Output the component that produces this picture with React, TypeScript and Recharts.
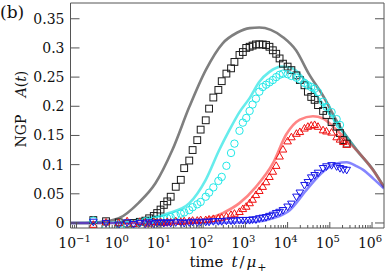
import React from "react";
import {
  ComposedChart,
  Line,
  Scatter,
  XAxis,
  YAxis,
} from "recharts";

// time grid shared by the simulation markers
const MARK_T = [
  0.25, 0.5, 1, 1.58, 2.24, 3.16, 4.27, 5.25, 6.76, 8.13, 9.77, 11.7, 14.1, 17.0,
  22.4, 29.5, 35.5, 46.8, 56.2, 72.4, 87.1, 115, 138, 174, 229, 275, 355, 457, 550,
  724, 871, 1047, 1259, 1479, 1778, 2138, 2570, 3090, 3715, 4467, 5370, 6457, 7762,
  10000, 12300, 16200, 19500, 25100, 30200, 36300, 43700, 52500, 69200, 83200,
  110000, 145000, 174000, 209000, 251000,
];

const SQUARES = [
  0.005, 0.003, 0.001, -0.001, 0.0, 0.002, 0.004, 0.008, 0.012, 0.017,
  0.023, 0.031, 0.037, 0.045, 0.062, 0.074, 0.094, 0.107, 0.125, 0.142,
  0.16, 0.176, 0.196, 0.215, 0.228, 0.243, 0.256, 0.265, 0.276, 0.288,
  0.293, 0.3, 0.302, 0.304, 0.306, 0.306, 0.306, 0.305, 0.302, 0.296,
  0.29, 0.282, 0.273, 0.268, 0.262, 0.253, 0.245, 0.236, 0.225, 0.216,
  0.211, 0.202, 0.192, 0.185, 0.173, 0.165, 0.154, 0.142, 0.136,
];

const CIRCLES = [
  0.004, -0.008, -0.002, -0.004, -0.003, 0.001, 0.003, 0.002, 0.004, 0.005,
  0.006, 0.007, 0.008, 0.01, 0.013, 0.016, 0.018, 0.022, 0.027, 0.032,
  0.036, 0.045, 0.052, 0.061, 0.072, 0.079, 0.098, 0.12, 0.136, 0.158,
  0.172, 0.18, 0.192, 0.203, 0.213, 0.225, 0.233, 0.237, 0.241, 0.245,
  0.25, 0.254, 0.256, 0.255, 0.252, 0.249, 0.246, 0.24, 0.236, 0.233,
  0.23, 0.224, 0.208, 0.199, 0.19, 0.178, 0.168, null, null,
];

const TRI_UP = [
  -0.003, 0.001, 0.0, 0.003, -0.002, 0.002, 0.001, -0.001, 0.002, 0.001,
  0.002, 0.0, 0.002, 0.001, 0.003, 0.002, 0.003, 0.003, 0.004, 0.004,
  0.005, 0.005, 0.006, 0.007, 0.008, 0.009, 0.011, 0.014, 0.016, 0.019,
  0.024, 0.028, 0.034, 0.04, 0.048, 0.055, 0.062, 0.07, 0.079, 0.088,
  0.098, 0.114, 0.126, 0.14, 0.147, 0.153, 0.156, 0.162, 0.165, 0.167,
  0.168, 0.165, 0.159, 0.157, 0.155, 0.147, 0.143, 0.139, 0.134,
];

const TRI_DOWN = [
  0.002, 0.0, -0.003, 0.001, -0.002, 0.0, -0.001, 0.001, -0.001, 0.0,
  0.001, 0.0, 0.001, 0.0, 0.001, 0.001, 0.0, 0.001, 0.002, 0.001,
  0.002, 0.002, 0.002, 0.003, 0.003, 0.003, 0.004, 0.004, 0.004, 0.005,
  0.005, 0.005, 0.005, 0.006, 0.006, 0.008, 0.009, 0.01, 0.012, 0.014,
  0.017, 0.019, 0.022, 0.028, 0.033, 0.045, 0.052, 0.065, 0.07, 0.078,
  0.082, 0.086, 0.094, 0.097, 0.099, 0.097, 0.094, 0.092, 0.091,
];

// theory curves
const GRAY_T = [0.072, 0.16, 0.32, 1, 3, 7.4, 18.6, 47, 115, 290, 630, 1260, 2140, 4000, 7900, 15800, 31600, 69000, 174000, 437000, 1070000, 1920000];
const GRAY_V = [0, 0, 0.001, 0.008, 0.035, 0.068, 0.125, 0.199, 0.262, 0.308, 0.326, 0.334, 0.335, 0.331, 0.318, 0.296, 0.256, 0.218, 0.165, 0.125, 0.091, 0.062];

const CYAN_T = [0.072, 1, 3, 15.5, 47, 115, 240, 417, 724, 1260, 2140, 3720, 7080, 11200, 17800, 27500, 47900, 83200, 174000, 437000, 1070000, 1920000];
const CYAN_V = [0, 0.001, 0.006, 0.017, 0.034, 0.074, 0.125, 0.159, 0.19, 0.214, 0.242, 0.259, 0.268, 0.267, 0.258, 0.242, 0.219, 0.196, 0.163, 0.124, 0.09, 0.061];

const RED_T = [0.072, 10, 47, 290, 724, 1780, 4470, 9330, 19500, 39800, 69200, 120000, 209000, 437000, 1070000, 1920000];
const RED_V = [0, 0, 0.002, 0.017, 0.034, 0.062, 0.102, 0.152, 0.177, 0.183, 0.179, 0.165, 0.148, 0.124, 0.09, 0.061];

const BLUE_T = [0.072, 100, 1780, 4470, 11200, 27500, 69200, 145000, 251000, 437000, 617000, 1070000, 1920000];
const BLUE_V = [0, 0, 0.002, 0.008, 0.022, 0.056, 0.088, 0.102, 0.104, 0.097, 0.091, 0.076, 0.059];

const X_MIN = 0.072;
const X_MAX = 1.92e6;
const Y_MIN = -0.0086;
const Y_MAX = 0.377;
const Y_TICKS = [0, 0.05, 0.1, 0.15, 0.2, 0.25, 0.3, 0.35];
const X_TICKS: number[] = [];
for (let e = -2; e <= 6; e++) {
  for (let m = 1; m <= 9; m++) {
    const v = m * Math.pow(10, e);
    if (v >= X_MIN && v <= X_MAX) X_TICKS.push(v);
  }
}

const FONT = "DejaVu Serif";
const AXIS = "#555";

const pts = (ts: number[], vs: (number | null)[]) =>
  ts.map((t, i) => ({ t, v: vs[i] })).filter((p) => p.v != null);

const isMajor = (v: number) => Math.abs(Math.log10(v) - Math.round(Math.log10(v))) < 1e-6;

function BottomTick({ x, y, payload }: any) {
  const v = payload.value;
  const major = isMajor(v);
  const e = Math.round(Math.log10(v));
  return (
    <g>
      <line x1={x} x2={x} y1={y} y2={y - (major ? 6 : 3)} stroke={AXIS} />
      {major && (
        <text x={x - 2} y={y + 20} textAnchor="middle" fontFamily={FONT} fontSize={14} fill="#111">
          10
          <tspan dy={-6} fontSize={10}>{e < 0 ? "\u2212" + -e : e}</tspan>
        </text>
      )}
    </g>
  );
}

function TopTick({ x, y, payload }: any) {
  const major = isMajor(payload.value);
  return <line x1={x} x2={x} y1={y} y2={y + (major ? 6 : 3)} stroke={AXIS} />;
}

function LeftTick({ x, y, payload }: any) {
  return (
    <g>
      <line x1={x} x2={x + 9} y1={y} y2={y} stroke={AXIS} />
      <text x={x - 6} y={y + 5} textAnchor="end" fontFamily={FONT} fontSize={14} fill="#111">
        {payload.value}
      </text>
    </g>
  );
}

function RightTick({ x, y }: any) {
  return <line x1={x} x2={x - 9} y1={y} y2={y} stroke={AXIS} />;
}

const Square = ({ cx, cy }: any) => (
  <rect x={cx - 3.4} y={cy - 3.4} width={6.8} height={6.8} fill="none" stroke="#1a1a1a" strokeWidth={1} />
);
const Circle = ({ cx, cy }: any) => (
  <circle cx={cx} cy={cy} r={3.7} fill="none" stroke="#22e8e8" strokeWidth={1} />
);
const TriUp = ({ cx, cy }: any) => (
  <path d={`M${cx},${cy - 4} L${cx + 3.8},${cy + 2.6} L${cx - 3.8},${cy + 2.6} Z`} fill="none" stroke="#f01010" strokeWidth={1} />
);
const TriDown = ({ cx, cy }: any) => (
  <path d={`M${cx},${cy + 4} L${cx + 3.8},${cy - 2.6} L${cx - 3.8},${cy - 2.6} Z`} fill="none" stroke="#1515e6" strokeWidth={1} />
);

export default function App() {
  return (
    <div style={{ position: "absolute", left: 0, top: 0, width: 387, height: 276, background: "#fff" }}>
      <ComposedChart width={387} height={276} margin={{ top: 2, right: 2, bottom: 47, left: 69.5 }}>
        <XAxis
          dataKey="t"
          type="number"
          scale="log"
          domain={[X_MIN, X_MAX]}
          allowDataOverflow
          ticks={X_TICKS}
          interval={0}
          tickSize={0}
          tickMargin={0}
          height={1}
          tick={<BottomTick />}
          axisLine={{ stroke: AXIS }}
        />
        <XAxis
          xAxisId="top"
          orientation="top"
          type="number"
          scale="log"
          domain={[X_MIN, X_MAX]}
          allowDataOverflow
          ticks={X_TICKS}
          interval={0}
          tickSize={0}
          tickMargin={0}
          height={1}
          tick={<TopTick />}
          axisLine={{ stroke: AXIS }}
        />
        <YAxis
          dataKey="v"
          type="number"
          domain={[Y_MIN, Y_MAX]}
          allowDataOverflow
          ticks={Y_TICKS}
          interval={0}
          tickSize={0}
          tickMargin={0}
          width={1}
          tick={<LeftTick />}
          axisLine={{ stroke: AXIS }}
        />
        <YAxis
          yAxisId="right"
          orientation="right"
          type="number"
          domain={[Y_MIN, Y_MAX]}
          allowDataOverflow
          ticks={Y_TICKS}
          interval={0}
          tickSize={0}
          tickMargin={0}
          width={1}
          tick={<RightTick />}
          axisLine={{ stroke: AXIS }}
        />
        <Line data={pts(GRAY_T, GRAY_V)} dataKey="v" type="monotone" dot={false} stroke="#7f7f7f" strokeWidth={2.6} isAnimationActive={false} />
        <Scatter data={pts(MARK_T, SQUARES)} shape={<Square />} isAnimationActive={false} />
        <Line data={pts(CYAN_T, CYAN_V)} dataKey="v" type="monotone" dot={false} stroke="#00e0e0" strokeOpacity={0.6} strokeWidth={2.6} isAnimationActive={false} />
        <Scatter data={pts(MARK_T, CIRCLES)} shape={<Circle />} isAnimationActive={false} />
        <Line data={pts(RED_T, RED_V)} dataKey="v" type="monotone" dot={false} stroke="#ff2020" strokeOpacity={0.55} strokeWidth={2.6} isAnimationActive={false} />
        <Scatter data={pts(MARK_T, TRI_UP)} shape={<TriUp />} isAnimationActive={false} />
        <Scatter data={pts(MARK_T, TRI_DOWN)} shape={<TriDown />} isAnimationActive={false} />
        <Line data={pts(BLUE_T, BLUE_V)} dataKey="v" type="monotone" dot={false} stroke="#2020ff" strokeOpacity={0.55} strokeWidth={2.6} isAnimationActive={false} />
      </ComposedChart>
      <svg width={387} height={276} style={{ position: "absolute", left: 0, top: 0, pointerEvents: "none" }}>
        <text x={0} y={18} fontFamily={FONT} fontSize={17} fill="#111">(b)</text>
        <text transform="translate(26,131) rotate(-90)" textAnchor="middle" fontFamily={FONT} fontSize={14} fill="#111">NGP</text>
        <text transform="translate(26,84) rotate(-90)" textAnchor="middle" fontFamily={FONT} fontSize={14} fill="#111">
          <tspan fontStyle="italic">A</tspan>(<tspan fontStyle="italic">t</tspan>)
        </text>
        <text x={228} y={267} textAnchor="middle" fontFamily={FONT} fontSize={15} fill="#111">
          time<tspan dx={8} fontStyle="italic">t</tspan>
          <tspan dx={2}>/</tspan>
          <tspan dx={2} fontStyle="italic">μ</tspan>
          <tspan dx={1} dy={4} fontSize={11}>+</tspan>
        </text>
      </svg>
    </div>
  );
}
